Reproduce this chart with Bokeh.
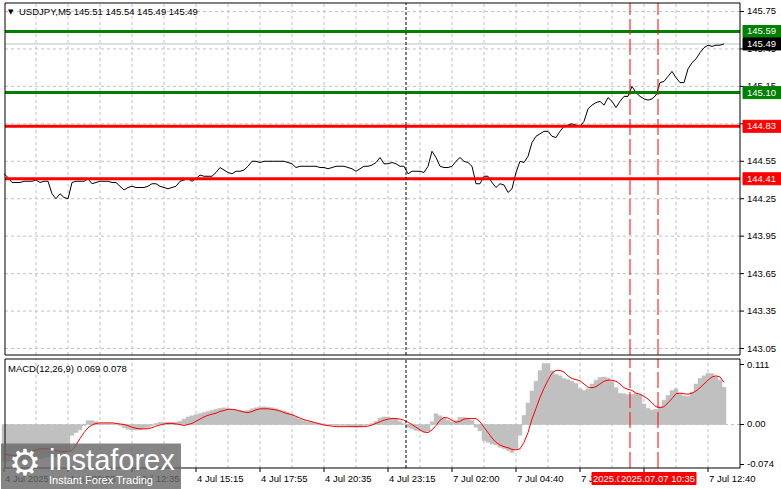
from bokeh.plotting import figure
from bokeh.models import Range1d
from bokeh.layouts import column
from bokeh.core.properties import value
from bokeh.embed import file_html
from bokeh.resources import INLINE

# ---------------- data (M5 bars, sampled every 2 bars) ----------------
bars = list(range(0, 362, 2))

close = [
    144.45, 144.42, 144.38, 144.38, 144.38, 144.39, 144.39, 144.39, 144.40, 144.38,
    144.39, 144.39, 144.29, 144.25, 144.29, 144.26, 144.25, 144.38, 144.39, 144.39,
    144.39, 144.41, 144.37, 144.38, 144.39, 144.39, 144.39, 144.38, 144.38, 144.35,
    144.32, 144.34, 144.35, 144.34, 144.34, 144.34, 144.35, 144.37, 144.37, 144.35,
    144.34, 144.33, 144.34, 144.35, 144.39, 144.40, 144.41, 144.39, 144.41, 144.44,
    144.43, 144.43, 144.43, 144.46, 144.50, 144.48, 144.46, 144.45, 144.47, 144.47,
    144.48, 144.51, 144.55, 144.55, 144.54, 144.55, 144.55, 144.55, 144.55, 144.55,
    144.55, 144.54, 144.53, 144.50, 144.51, 144.51, 144.51, 144.51, 144.51, 144.50,
    144.50, 144.49, 144.50, 144.51, 144.51, 144.51, 144.50, 144.49, 144.47, 144.49,
    144.51, 144.51, 144.52, 144.54, 144.58, 144.53, 144.53, 144.54, 144.53, 144.51,
    144.51, 144.45, 144.47, 144.47, 144.47, 144.46, 144.51, 144.63, 144.58, 144.51,
    144.50, 144.50, 144.51, 144.55, 144.58, 144.55, 144.54, 144.51, 144.37, 144.37,
    144.43, 144.43, 144.38, 144.34, 144.37, 144.36, 144.30, 144.33, 144.46, 144.55,
    144.54, 144.59, 144.70, 144.75, 144.77, 144.79, 144.79, 144.75, 144.74, 144.79,
    144.83, 144.84, 144.85, 144.84, 144.83, 144.87, 144.97, 145.00, 145.02, 145.03,
    145.00, 145.06, 145.03, 144.98, 145.03, 145.07, 145.07, 145.15, 145.10, 145.07,
    145.05, 145.04, 145.05, 145.08, 145.18, 145.19, 145.23, 145.27, 145.22, 145.18,
    145.18, 145.29, 145.34, 145.37, 145.42, 145.46, 145.48, 145.47, 145.48, 145.48,
    145.49,
]

macd_main = [
    -0.068, -0.068, -0.068, -0.068, -0.068, -0.068, -0.066, -0.066, -0.066, -0.064,
    -0.062, -0.060, -0.060, -0.060, -0.060, -0.058, -0.050, -0.020, -0.015, -0.010,
    -0.002, 0.007, 0.007, 0.005, 0.002, 0.002, 0.002, 0.002, 0.001, -0.002,
    -0.006, -0.009, -0.010, -0.010, -0.010, -0.008, -0.006, -0.002, 0.002, 0.004,
    0.004, 0.004, 0.004, 0.004, 0.006, 0.010, 0.014, 0.016, 0.018, 0.020,
    0.022, 0.024, 0.026, 0.028, 0.030, 0.031, 0.030, 0.028, 0.027, 0.026,
    0.025, 0.026, 0.029, 0.031, 0.032, 0.033, 0.032, 0.031, 0.029, 0.027,
    0.025, 0.022, 0.019, 0.014, 0.010, 0.007, 0.005, 0.004, 0.003, 0.002,
    0.001, 0.000, -0.001, -0.002, -0.002, -0.002, -0.003, -0.004, -0.005, -0.004,
    -0.002, 0.000, 0.002, 0.006, 0.012, 0.014, 0.014, 0.012, 0.010, 0.006,
    0.002, -0.005, -0.008, -0.011, -0.012, -0.014, -0.012, 0.005, 0.020, 0.016,
    0.012, 0.008, 0.005, 0.008, 0.013, 0.013, 0.012, 0.008, -0.005, -0.012,
    -0.030, -0.033, -0.036, -0.038, -0.042, -0.045, -0.048, -0.052, -0.045, -0.020,
    0.017, 0.040, 0.062, 0.080, 0.100, 0.113, 0.113, 0.100, 0.093, 0.090,
    0.085, 0.083, 0.080, 0.076, 0.066, 0.063, 0.066, 0.075, 0.082, 0.087,
    0.088, 0.086, 0.080, 0.068, 0.058, 0.057, 0.055, 0.056, 0.058, 0.055,
    0.038, 0.030, 0.027, 0.028, 0.033, 0.045, 0.054, 0.063, 0.066, 0.057,
    0.053, 0.052, 0.060, 0.075, 0.085, 0.090, 0.095, 0.094, 0.088, 0.082,
    0.069,
]

macd_signal = [
    -0.055, -0.056, -0.057, -0.057, -0.056, -0.055, -0.053, -0.050, -0.047, -0.045,
    -0.045, -0.045, -0.046, -0.048, -0.050, -0.050, -0.050, -0.048, -0.038, -0.026,
    -0.015, -0.006, -0.001, 0.002, 0.003, 0.003, 0.003, 0.003, 0.002, 0.001,
    0.000, -0.002, -0.005, -0.007, -0.008, -0.008, -0.008, -0.006, -0.003, -0.001,
    0.001, 0.002, 0.002, 0.001, 0.000, -0.002, 0.000, 0.002, 0.006, 0.010,
    0.014, 0.017, 0.019, 0.021, 0.024, 0.026, 0.028, 0.028, 0.027, 0.025,
    0.023, 0.022, 0.024, 0.027, 0.029, 0.029, 0.029, 0.028, 0.027, 0.025,
    0.022, 0.020, 0.018, 0.015, 0.012, 0.009, 0.007, 0.005, 0.003, 0.001,
    -0.001, -0.002, -0.003, -0.004, -0.004, -0.004, -0.004, -0.004, -0.004, -0.004,
    -0.004, -0.003, -0.001, 0.002, 0.005, 0.008, 0.010, 0.011, 0.011, 0.010,
    0.008, 0.004, 0.000, -0.005, -0.010, -0.014, -0.015, -0.010, -0.002, 0.008,
    0.013, 0.012, 0.008, 0.004, 0.006, 0.010, 0.011, 0.011, 0.011, 0.005,
    -0.005, -0.015, -0.025, -0.033, -0.038, -0.041, -0.043, -0.046, -0.047, -0.045,
    -0.033, -0.015, 0.010, 0.030, 0.050, 0.067, 0.082, 0.095, 0.100, 0.100,
    0.097, 0.090, 0.085, 0.083, 0.081, 0.075, 0.069, 0.068, 0.070, 0.075,
    0.080, 0.082, 0.082, 0.080, 0.075, 0.068, 0.065, 0.063, 0.058, 0.056,
    0.052, 0.047, 0.040, 0.033, 0.031, 0.033, 0.040, 0.048, 0.057, 0.058,
    0.057, 0.056, 0.058, 0.062, 0.068, 0.075, 0.082, 0.088, 0.090, 0.088,
    0.078,
]

time_ticks = [0, 32, 64, 96, 128, 160, 192, 224, 256, 288, 320, 352]
time_labels = ["4 Jul 2025", "4 Jul 09:55", "4 Jul 12:35", "4 Jul 15:15", "4 Jul 17:55",
               "4 Jul 20:35", "4 Jul 23:15", "7 Jul 02:00", "7 Jul 04:40", "7 Jul 07:20",
               "7 Jul 10:00", "7 Jul 12:40"]
grid_bars = [16, 32, 48, 64, 80, 96, 112, 128, 144, 160, 176, 192, 208, 224, 240,
             256, 272, 288, 304, 320, 336, 352]
price_ticks = [143.05, 143.35, 143.65, 143.95, 144.25, 144.55, 144.85, 145.15, 145.45, 145.75]
price_tick_labels = ["143.05", "143.35", "143.65", "143.95", "144.25", "144.55", "144.85",
                     "145.15", "145.45", "145.75"]
green_levels = [145.59, 145.10]
red_levels = [144.83, 144.41]
bid_price = 145.49
level_values = [145.59, 145.49, 145.10, 144.83, 144.41]
level_labels = ["145.59", "145.49", "145.10", "144.83", "144.41"]
level_colors = ["#008000", "#000000", "#008000", "#ff0000", "#ff0000"]
separator_bar = 201
alert_bars = [313, 327]
alert_labels = ["2025.07.07 09:25", "2025.07.07 10:35"]
macd_ticks = [0.111, 0.0, -0.074]
macd_tick_labels = ["0.111", "0.00", "-0.074"]
title_text = "USDJPY,M5  145.51 145.54 145.49 145.49"
macd_title = "MACD(12,26,9) 0.069 0.078"

# ---------------- geometry (2 px per bar) ----------------
FONT = "Liberation Sans"
GREEN = "#008000"
RED = "#ff0000"
GRID = "#c0c0c0"
W = 781
H_TOP, H_MACD = 357, 132
XR = (-1.75, 388.75)          # whole canvas width in bar units (bars land on pixel centres)
X0, X1 = 0.5, 368.0           # chart frame, left / right
PR = (142.978, 145.838)       # price canvas range
P_TOP, P_BOT = 145.818, 142.998
MR = (-0.12026, 0.12396)      # macd canvas range
M_TOP, M_BOT = 0.12118, -0.08048
TIME_Y = -0.0999              # row of the time scale
TICK_BARS = 2.0               # tick mark length in bars (4 px)
TICK_M = 0.0074               # tick mark length in macd units (4 px)


def new_fig(height, yr, xr=None):
    f = figure(width=W, height=height, x_range=xr if xr is not None else Range1d(*XR),
               y_range=Range1d(*yr), min_border=0, toolbar_location=None,
               output_backend="svg", x_axis_location=None, y_axis_location=None,
               background_fill_color="white", border_fill_color="white",
               outline_line_color=None)
    f.grid.visible = False
    return f


def text(fig, x, y, t, size="9.5px", color="black", align="left", baseline="middle",
         dx=0, dy=0, font=FONT):
    fig.text(x=x, y=y, text=t, text_font=value(font), text_font_size=value(size),
             text_color=color, text_align=align, text_baseline=baseline,
             x_offset=dx, y_offset=dy)


def vgrid(fig, y_lo, y_hi):
    n = len(grid_bars)
    fig.segment(x0=grid_bars, x1=grid_bars, y0=[y_lo] * n, y1=[y_hi] * n,
                line_color=GRID, line_dash="3 3", line_width=1)


def vmarkers(fig, y_lo, y_hi):
    fig.segment(x0=[separator_bar], x1=[separator_bar], y0=[y_lo], y1=[y_hi],
                line_color="black", line_dash="3 2", line_width=1)
    fig.segment(x0=alert_bars, x1=alert_bars, y0=[y_lo] * 2, y1=[y_hi] * 2,
                line_color=RED, line_dash="16 4", line_width=1)


# ---------------- price panel ----------------
p = new_fig(H_TOP, PR)
n = len(price_ticks)
p.segment(x0=[X0] * n, x1=[X1] * n, y0=price_ticks, y1=price_ticks,
          line_color=GRID, line_dash="3 3", line_width=1)
vgrid(p, P_BOT, P_TOP)
p.segment(x0=[X0], x1=[X1], y0=[bid_price], y1=[bid_price], line_color=GRID, line_width=1)

p.line(bars, close, line_color="black", line_width=1)

p.segment(x0=[X0] * 2, x1=[X1] * 2, y0=green_levels, y1=green_levels,
          line_color=GREEN, line_width=3)
p.segment(x0=[X0] * 2, x1=[X1] * 2, y0=red_levels, y1=red_levels,
          line_color=RED, line_width=3)
vmarkers(p, P_BOT, P_TOP)

p.quad(left=[X0], right=[X1], bottom=[P_BOT], top=[P_TOP], fill_color=None,
       line_color="black", line_width=1)

# right price scale
p.segment(x0=[X1] * n, x1=[X1 + TICK_BARS] * n, y0=price_ticks, y1=price_ticks,
          line_color="black", line_width=1)
text(p, [X1] * n, price_ticks, price_tick_labels, dx=7)
k = len(level_values)
p.rect(x=[X1 + 11.25] * k, y=level_values, width=39, height=12,
       width_units="screen", height_units="screen",
       fill_color=level_colors, line_color=level_colors)
text(p, [X1] * k, level_values, level_labels, color="white", dx=7)

# title
text(p, [X0], [P_TOP], ["\u25bc"], size="7px", dx=3, dy=9, font="DejaVu Sans")
text(p, [X0], [P_TOP], [title_text], dx=14, dy=9)

# ---------------- MACD panel ----------------
m = new_fig(H_MACD, MR, xr=p.x_range)
vgrid(m, M_BOT, M_TOP)
m.segment(x0=[X0], x1=[X1], y0=[0.0], y1=[0.0], line_color=GRID, line_dash="3 3",
          line_width=1)

m.vbar(x=bars, top=macd_main, bottom=0, width=2, fill_color="#c0c0c0",
       line_color="#c0c0c0", line_width=0.5)
m.line(bars, macd_signal, line_color="red", line_width=1)
vmarkers(m, M_BOT, M_TOP)

m.quad(left=[X0], right=[X1], bottom=[M_BOT], top=[M_TOP], fill_color=None,
       line_color="black", line_width=1)

# right macd scale
nm = len(macd_ticks)
m.segment(x0=[X1] * nm, x1=[X1 + TICK_BARS] * nm, y0=macd_ticks, y1=macd_ticks,
          line_color="black", line_width=1)
text(m, [X1] * nm, macd_ticks, macd_tick_labels, dx=7)

# time scale
nt = len(time_ticks)
m.segment(x0=time_ticks, x1=time_ticks, y0=[M_BOT] * nt, y1=[M_BOT - TICK_M] * nt,
          line_color="black", line_width=1)
text(m, time_ticks, [TIME_Y] * nt, time_labels, dx=1)

# alert time boxes on the time scale (each box with its own text, later one on top)
for b, t in zip(alert_bars, alert_labels):
    m.rect(x=[b], y=[TIME_Y], width=76, height=12,
           width_units="screen", height_units="screen", fill_color=RED, line_color=RED)
    text(m, [b], [TIME_Y], [t], color="white", align="center")

# macd title
text(m, [X0], [M_TOP], [macd_title], dx=3, dy=9)

# watermark
m.rect(x=[43.5], y=[-0.0777], width=180, height=46, width_units="screen",
       height_units="screen", fill_color="#666666", fill_alpha=0.8, line_color=None)
text(m, [10.5], [-0.0703], ["\u2699"], size="36px", color="white", align="center",
     font="DejaVu Sans")
text(m, [22.5], [-0.0648], ["instaforex"], size="29px", color="white")
text(m, [22.5], [-0.1036], ["Instant Forex Trading"], size="11px", color="white")

layout = column(p, m, spacing=0)
open("out.html", "w").write(file_html(layout, INLINE))
